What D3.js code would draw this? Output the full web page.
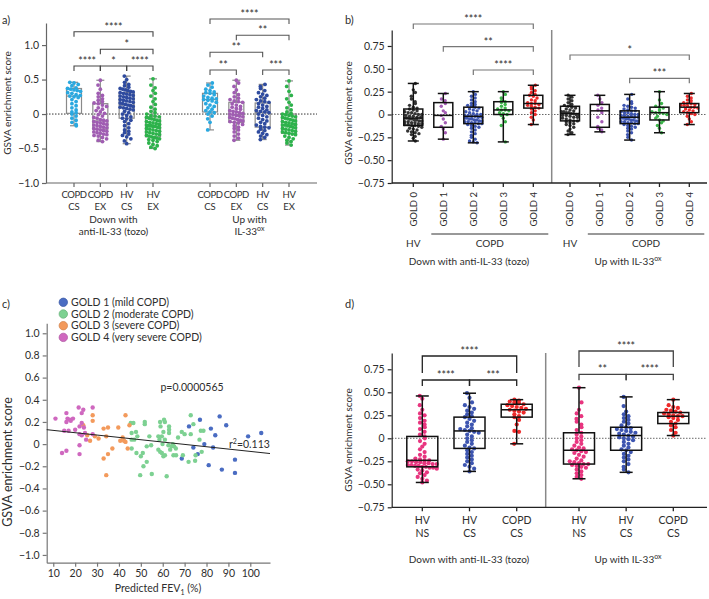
<!DOCTYPE html>
<html>
<head>
<meta charset="utf-8">
<script src="https://cdn.jsdelivr.net/npm/d3@7"></script>
<style>
  body { margin: 0; background: #fff; }
  text { font-family: Lato, "Open Sans", sans-serif; fill: #2e2e2e; }
</style>
</head>
<body>
<script>
// ---------- panel a ----------
const aCats = [['COPD', 'CS'], ['COPD', 'EX'], ['HV', 'CS'], ['HV', 'EX']];
const aColors = ['#29a8e0', '#a05db2', '#2f4b9f', '#2db24b'];
const aTicks = [1.0, 0.5, 0, -0.5, -1.0];
// [min, q1, median, q3, max]
const aDownBox = [[-0.17, 0.01, 0.26, 0.37, 0.46], [-0.40, -0.22, -0.10, 0.15, 0.49], [-0.43, -0.06, 0.13, 0.31, 0.55], [-0.50, -0.33, -0.18, -0.04, 0.51]];
const aUpBox = [[-0.23, 0.03, 0.21, 0.30, 0.45], [-0.38, -0.12, -0.01, 0.17, 0.49], [-0.37, -0.19, 0.02, 0.16, 0.43], [-0.45, -0.28, -0.16, 0.00, 0.48]];
const aDownPts = [
  [0.46, 0.45, 0.43, 0.41, 0.38, 0.37, 0.36, 0.35, 0.34, 0.33, 0.31, 0.30, 0.28, 0.27, 0.26, 0.25, 0.24, 0.21, 0.18, 0.15, 0.12, 0.09, 0.06, 0.03, 0.02, 0.00, -0.03, -0.06, -0.09, -0.12, -0.15, -0.17],
  [0.49, 0.42, 0.36, 0.30, 0.27, 0.25, 0.22, 0.20, 0.18, 0.16, 0.15, 0.13, 0.11, 0.09, 0.07, 0.05, 0.03, 0.01, -0.01, -0.03, -0.05, -0.06, -0.08, -0.09, -0.10, -0.11, -0.12, -0.13, -0.14, -0.15, -0.16, -0.17, -0.18, -0.19, -0.20, -0.21, -0.22, -0.23, -0.24, -0.25, -0.26, -0.27, -0.28, -0.29, -0.30, -0.31, -0.32, -0.34, -0.36, -0.38, -0.40],
  [0.55, 0.50, 0.46, 0.43, 0.41, 0.39, 0.37, 0.36, 0.35, 0.34, 0.33, 0.32, 0.31, 0.30, 0.29, 0.28, 0.27, 0.26, 0.25, 0.24, 0.23, 0.22, 0.21, 0.20, 0.19, 0.18, 0.17, 0.16, 0.15, 0.14, 0.13, 0.12, 0.11, 0.10, 0.09, 0.08, 0.07, 0.06, 0.04, 0.02, 0.00, -0.02, -0.04, -0.06, -0.07, -0.09, -0.11, -0.14, -0.17, -0.20, -0.23, -0.25, -0.27, -0.29, -0.31, -0.33, -0.36, -0.39, -0.43],
  [0.51, 0.42, 0.38, 0.34, 0.30, 0.26, 0.22, 0.18, 0.14, 0.10, 0.07, 0.04, 0.02, 0.00, -0.02, -0.03, -0.04, -0.05, -0.06, -0.07, -0.08, -0.09, -0.10, -0.11, -0.12, -0.13, -0.14, -0.15, -0.16, -0.17, -0.17, -0.18, -0.18, -0.19, -0.20, -0.21, -0.22, -0.23, -0.24, -0.25, -0.26, -0.27, -0.28, -0.29, -0.30, -0.31, -0.32, -0.33, -0.34, -0.35, -0.36, -0.37, -0.38, -0.40, -0.42, -0.44, -0.46, -0.48, -0.50]
];
const aUpPts = [
  [0.45, 0.42, 0.39, 0.36, 0.34, 0.32, 0.31, 0.30, 0.28, 0.26, 0.24, 0.23, 0.22, 0.21, 0.20, 0.19, 0.17, 0.15, 0.13, 0.11, 0.09, 0.07, 0.05, 0.03, 0.02, 0.00, -0.03, -0.07, -0.12, -0.23],
  [0.49, 0.45, 0.40, 0.35, 0.31, 0.28, 0.25, 0.23, 0.21, 0.19, 0.18, 0.17, 0.15, 0.13, 0.11, 0.10, 0.08, 0.07, 0.05, 0.04, 0.03, 0.02, 0.01, 0.00, -0.01, -0.02, -0.03, -0.04, -0.05, -0.06, -0.07, -0.08, -0.09, -0.10, -0.11, -0.12, -0.13, -0.15, -0.17, -0.19, -0.21, -0.23, -0.26, -0.29, -0.32, -0.35, -0.38],
  [0.43, 0.40, 0.37, 0.34, 0.31, 0.29, 0.27, 0.25, 0.23, 0.21, 0.19, 0.18, 0.17, 0.15, 0.13, 0.11, 0.10, 0.08, 0.06, 0.05, 0.04, 0.03, 0.02, 0.00, -0.02, -0.04, -0.06, -0.08, -0.10, -0.12, -0.14, -0.16, -0.18, -0.19, -0.20, -0.22, -0.24, -0.26, -0.28, -0.30, -0.32, -0.34, -0.37],
  [0.48, 0.40, 0.33, 0.27, 0.22, 0.17, 0.13, 0.09, 0.06, 0.03, 0.01, 0.00, -0.01, -0.02, -0.03, -0.04, -0.05, -0.06, -0.07, -0.08, -0.09, -0.10, -0.11, -0.12, -0.13, -0.14, -0.15, -0.16, -0.16, -0.17, -0.18, -0.19, -0.20, -0.21, -0.22, -0.23, -0.24, -0.25, -0.26, -0.27, -0.28, -0.29, -0.30, -0.32, -0.34, -0.36, -0.38, -0.40, -0.42, -0.45]
];
// [from, to, label, level]
const aDownSig = [[0, 3, '****', 0], [1, 3, '*', 1], [0, 1, '****', 2], [1, 2, '*', 2], [2, 3, '****', 2]];
const aUpSig = [[0, 3, '****', 0], [1, 3, '**', 1], [0, 2, '**', 2], [0, 1, '**', 3], [2, 3, '***', 3]];

// ---------- panel b ----------
const bCats = ['GOLD 0', 'GOLD 1', 'GOLD 2', 'GOLD 3', 'GOLD 4'];
const bColors = ['#333333', '#a35bb4', '#3d55b0', '#3cb54a', '#ee2a2a'];
const bTicks = [0.75, 0.5, 0.25, 0, -0.25, -0.5, -0.75];
const bDownBox = [[-0.29, -0.12, -0.04, 0.06, 0.34], [-0.27, -0.14, -0.01, 0.13, 0.23], [-0.31, -0.10, -0.02, 0.08, 0.25], [-0.30, 0.00, 0.05, 0.14, 0.25], [-0.11, 0.07, 0.12, 0.21, 0.32]];
const bUpBox = [[-0.22, -0.07, 0.01, 0.09, 0.21], [-0.19, -0.14, 0.04, 0.11, 0.21], [-0.28, -0.10, -0.03, 0.04, 0.22], [-0.20, -0.06, 0.02, 0.08, 0.25], [-0.11, 0.02, 0.08, 0.12, 0.23]];
const bDownPts = [
  [0.34, 0.27, 0.24, 0.20, 0.17, 0.14, 0.12, 0.10, 0.08, 0.07, 0.06, 0.05, 0.04, 0.03, 0.02, 0.02, 0.01, 0.00, 0.00, -0.01, -0.02, -0.02, -0.03, -0.03, -0.04, -0.04, -0.05, -0.05, -0.06, -0.06, -0.07, -0.07, -0.08, -0.08, -0.09, -0.09, -0.10, -0.10, -0.11, -0.11, -0.12, -0.12, -0.13, -0.14, -0.15, -0.16, -0.17, -0.18, -0.19, -0.20, -0.21, -0.22, -0.24, -0.26, -0.29],
  [0.23, 0.17, 0.15, 0.12, 0.09, 0.04, 0.02, -0.01, -0.05, -0.09, -0.13, -0.16, -0.20, -0.27],
  [0.25, 0.22, 0.20, 0.18, 0.16, 0.14, 0.12, 0.11, 0.10, 0.09, 0.08, 0.07, 0.06, 0.05, 0.04, 0.03, 0.02, 0.01, 0.00, 0.00, -0.01, -0.01, -0.02, -0.02, -0.03, -0.03, -0.04, -0.04, -0.05, -0.05, -0.06, -0.06, -0.07, -0.07, -0.08, -0.08, -0.09, -0.09, -0.10, -0.10, -0.11, -0.12, -0.13, -0.14, -0.15, -0.17, -0.19, -0.21, -0.23, -0.25, -0.27, -0.29, -0.30, -0.31],
  [0.25, 0.22, 0.18, 0.15, 0.14, 0.13, 0.11, 0.09, 0.07, 0.06, 0.05, 0.05, 0.04, 0.02, 0.01, 0.00, -0.01, -0.04, -0.08, -0.12, -0.30],
  [0.32, 0.30, 0.28, 0.26, 0.24, 0.22, 0.21, 0.20, 0.18, 0.16, 0.15, 0.13, 0.12, 0.12, 0.11, 0.10, 0.09, 0.08, 0.07, 0.06, 0.04, 0.02, 0.00, -0.03, -0.06, -0.11]
];
const bUpPts = [
  [0.21, 0.19, 0.17, 0.15, 0.13, 0.11, 0.10, 0.09, 0.08, 0.07, 0.06, 0.05, 0.04, 0.03, 0.03, 0.02, 0.02, 0.01, 0.01, 0.00, 0.00, -0.01, -0.01, -0.02, -0.03, -0.03, -0.04, -0.05, -0.06, -0.07, -0.07, -0.08, -0.09, -0.10, -0.11, -0.12, -0.14, -0.16, -0.18, -0.20, -0.22],
  [0.21, 0.17, 0.13, 0.10, 0.07, 0.05, 0.04, 0.02, -0.03, -0.08, -0.13, -0.15, -0.17, -0.19],
  [0.22, 0.17, 0.14, 0.12, 0.10, 0.09, 0.08, 0.07, 0.06, 0.05, 0.04, 0.04, 0.03, 0.02, 0.02, 0.01, 0.00, 0.00, -0.01, -0.01, -0.02, -0.02, -0.03, -0.03, -0.04, -0.04, -0.05, -0.05, -0.06, -0.06, -0.07, -0.07, -0.08, -0.08, -0.09, -0.09, -0.10, -0.10, -0.11, -0.12, -0.13, -0.14, -0.15, -0.16, -0.18, -0.20, -0.22, -0.25, -0.28],
  [0.25, 0.16, 0.12, 0.09, 0.08, 0.07, 0.05, 0.03, 0.02, 0.02, 0.01, 0.00, -0.02, -0.04, -0.06, -0.07, -0.09, -0.12, -0.15, -0.20],
  [0.23, 0.20, 0.18, 0.16, 0.15, 0.13, 0.12, 0.12, 0.11, 0.10, 0.10, 0.09, 0.08, 0.08, 0.07, 0.06, 0.05, 0.04, 0.03, 0.02, 0.01, 0.00, -0.02, -0.05, -0.08, -0.11]
];
const bDownSig = [[0, 4, '****', 0], [1, 4, '**', 1], [2, 4, '****', 2]];
const bUpSig = [[0, 4, '*', 0], [2, 4, '***', 1]];

// ---------- panel c ----------
const cLegend = ['GOLD 1 (mild COPD)', 'GOLD 2 (moderate COPD)', 'GOLD 3 (severe COPD)', 'GOLD 4 (very severe COPD)'];
const cColors = ['#4a6cc2', '#7dd192', '#f39a5c', '#cf68bf'];
const cXTicks = [10, 20, 30, 40, 50, 60, 70, 80, 90, 100];
const cYTicks = [1.0, 0.8, 0.6, 0.4, 0.2, 0, -0.2, -0.4, -0.6, -0.8, -1.0];
// [predicted FEV1 %, GSVA score]
const cGold1 = [[68.7, -0.13], [72, 0.16], [74, -0.03], [76, -0.09], [77, 0.22], [79, 0.00], [81, -0.19], [82, 0.14], [83, -0.03], [84, 0.08], [86, 0.25], [87, -0.23], [89, 0.17], [93, -0.14], [93, -0.26], [99, 0.07], [105, 0.10]];
const cGold2 = [[45.4, 0.19], [45.8, 0.10], [45.8, 0.04], [45.8, -0.04], [46.6, 0.19], [47, 0.04], [47.8, 0.11], [48, -0.08], [48.4, 0.07], [49.7, -0.28], [50, -0.11], [50.9, -0.08], [51.2, -0.20], [51.8, 0.20], [51.8, 0.18], [52.7, -0.02], [52.7, -0.16], [53.9, 0.07], [54.7, -0.01], [55, -0.27], [58, 0.07], [58, -0.05], [58.5, 0.04], [58.8, 0.20], [58.8, -0.07], [59, 0.16], [59.6, 0.07], [59.6, -0.08], [59.9, 0.00], [60.3, -0.11], [60.3, 0.11], [60.6, 0.22], [61, 0.20], [61, 0.04], [61, -0.10], [61.8, -0.29], [62.6, -0.01], [62.9, 0.16], [62.9, 0.10], [62.9, 0.13], [63.4, -0.05], [64, -0.02], [64.6, 0.00], [64.9, -0.10], [65.2, -0.02], [66, -0.04], [66.1, -0.10], [67, 0.06], [68.7, 0.11], [69.2, -0.10], [70, 0.09], [71.8, -0.16], [72.8, 0.26], [72.8, 0.09], [74, 0.18], [74.8, -0.15], [75, -0.10], [76.8, 0.04], [77.4, 0.12], [78.6, 0.12], [77.8, -0.07]];
const cGold3 = [[23.7, 0.17], [25.5, 0.08], [26.8, 0.03], [28, 0.26], [28, 0.21], [29, 0.07], [30.7, 0.05], [33, 0.14], [33, -0.13], [34.2, 0.07], [34.2, -0.28], [35, 0.15], [35, -0.09], [37, -0.04], [39.7, 0.15], [40.6, 0.03], [41.7, 0.06], [42.3, 0.03], [43, 0.26], [43, 0.02], [44, -0.04], [44.8, 0.17]];
const cGold4 = [[11, 0.23], [14, -0.08], [15, 0.12], [16, 0.28], [16, 0.20], [16, -0.06], [16.5, 0.23], [17.6, 0.22], [17, 0.12], [18, 0.21], [19, 0.23], [20, 0.13], [21.6, 0.33], [22, 0.09], [22, -0.01], [22, -0.09], [22, 0.16], [23, 0.28], [23, 0.19], [23, 0.08], [23.7, 0.31], [24, 0.15], [24.5, 0.10], [25, 0.04], [28, 0.33], [28, 0.09]];
const cFit = { slope: -0.00211, intercept: 0.145, domain: [7, 109] };

// ---------- panel d ----------
const dCats = [['HV', 'NS'], ['HV', 'CS'], ['COPD', 'CS']];
const dColors = ['#e8357f', '#3d55b0', '#ee2a2a'];
const dDownBox = [[-0.48, -0.31, -0.24, 0.02, 0.46], [-0.36, -0.11, 0.08, 0.23, 0.49], [-0.06, 0.23, 0.31, 0.37, 0.42]];
const dUpBox = [[-0.44, -0.28, -0.13, 0.06, 0.55], [-0.37, -0.13, 0.03, 0.12, 0.45], [0.03, 0.16, 0.24, 0.28, 0.42]];
const dDownPts = [
  [0.46, 0.43, 0.36, 0.31, 0.27, 0.25, 0.22, 0.19, 0.17, 0.15, 0.12, 0.10, 0.07, 0.04, 0.02, 0.00, -0.03, -0.06, -0.09, -0.12, -0.15, -0.18, -0.20, -0.22, -0.23, -0.24, -0.24, -0.25, -0.25, -0.26, -0.26, -0.27, -0.27, -0.28, -0.28, -0.29, -0.29, -0.30, -0.30, -0.31, -0.31, -0.32, -0.32, -0.33, -0.34, -0.35, -0.37, -0.38, -0.40, -0.42, -0.44, -0.46, -0.48],
  [0.49, 0.44, 0.39, 0.36, 0.34, 0.32, 0.30, 0.28, 0.26, 0.24, 0.23, 0.21, 0.19, 0.17, 0.15, 0.13, 0.11, 0.10, 0.09, 0.08, 0.07, 0.06, 0.04, 0.02, 0.00, -0.02, -0.04, -0.06, -0.08, -0.10, -0.11, -0.13, -0.15, -0.17, -0.19, -0.21, -0.23, -0.25, -0.27, -0.29, -0.31, -0.33, -0.36],
  [0.42, 0.41, 0.40, 0.39, 0.38, 0.37, 0.36, 0.35, 0.34, 0.33, 0.32, 0.31, 0.30, 0.29, 0.28, 0.26, 0.24, 0.23, 0.20, 0.15, 0.08, 0.07, -0.06]
];
const dUpPts = [
  [0.55, 0.39, 0.31, 0.27, 0.24, 0.21, 0.18, 0.15, 0.12, 0.09, 0.06, 0.04, 0.02, 0.00, -0.02, -0.04, -0.06, -0.08, -0.10, -0.11, -0.12, -0.13, -0.14, -0.15, -0.16, -0.18, -0.20, -0.22, -0.24, -0.25, -0.26, -0.27, -0.28, -0.28, -0.29, -0.30, -0.31, -0.32, -0.34, -0.36, -0.38, -0.40, -0.42, -0.44],
  [0.45, 0.35, 0.29, 0.26, 0.24, 0.22, 0.20, 0.18, 0.16, 0.14, 0.12, 0.11, 0.10, 0.09, 0.08, 0.07, 0.06, 0.05, 0.04, 0.03, 0.02, 0.01, 0.00, -0.01, -0.02, -0.04, -0.06, -0.08, -0.10, -0.12, -0.13, -0.15, -0.17, -0.19, -0.21, -0.23, -0.25, -0.28, -0.31, -0.34, -0.37],
  [0.42, 0.36, 0.34, 0.33, 0.31, 0.30, 0.29, 0.28, 0.27, 0.26, 0.25, 0.24, 0.24, 0.23, 0.22, 0.20, 0.18, 0.16, 0.14, 0.12, 0.09, 0.06, 0.03]
];
const dDownSig = [[0, 2, '****', 0], [0, 1, '****', 1], [1, 2, '***', 1]];
const dUpSig = [[0, 2, '****', 0], [0, 1, '**', 1], [1, 2, '****', 1]];

// ================= drawing =================
const FS = 10;   // base font size
const svg = d3.select('body').append('svg').attr('width', 709).attr('height', 599);

const fmt1 = v => v === 0 ? '0' : d3.format('.1f')(v);
const fmt2 = v => v === 0 ? '0' : d3.format('.2f')(v);

// simple beeswarm: points in the same row are spread sideways
function swarm(vals, y, r, half) {
  const rows = d3.groups(vals, v => Math.round(y(v) / (r * 1.9)));
  const out = [];
  rows.forEach(([row, arr]) => {
    const n = arr.length;
    const step = n > 1 ? Math.min(r * 2.2, (2 * half) / (n - 1)) : 0;
    const shift = n === 1 ? ((row % 3) - 1) * r * 1.2 : 0;
    arr.forEach((v, k) => out.push({ v, dx: (k - (n - 1) / 2) * step + shift }));
  });
  return out;
}

function yAxis(y, x0, ticks, fmt, color) {
  const g = svg.append('g').attr('transform', `translate(${x0},0)`)
    .call(d3.axisLeft(y).tickValues(ticks).tickFormat(fmt).tickSize(4).tickPadding(3).tickSizeOuter(0));
  g.select('.domain').attr('stroke', color).attr('stroke-width', 1.2);
  g.selectAll('.tick line').attr('stroke', color).attr('stroke-width', 1.2);
  g.selectAll('.tick text').attr('font-size', FS + 0.5).style('font-family', 'Lato, sans-serif').attr('fill', '#2e2e2e');
  return g;
}

function boxes(x, y, boxData, pts, colors, o) {
  const g = svg.append('g');
  boxData.forEach((b, i) => {
    const cx = x(i);
    const pg = g.append('g');
    const drawPts = () => {
      pg.selectAll('circle')
        .data(swarm(pts[i], y, o.r, o.boxW / 2 - 1))
        .enter().append('circle')
        .attr('cx', d => cx + d.dx)
        .attr('cy', d => y(d.v))
        .attr('r', o.r)
        .attr('fill', colors[i]);
    };
    if (o.ptsFirst) drawPts();
    const bg = g.append('g').attr('stroke', o.stroke).attr('stroke-width', o.sw).attr('fill', 'none');
    bg.append('line').attr('x1', cx).attr('x2', cx).attr('y1', y(b[0])).attr('y2', y(b[1]));
    bg.append('line').attr('x1', cx).attr('x2', cx).attr('y1', y(b[3])).attr('y2', y(b[4]));
    bg.append('line').attr('x1', cx - o.capW / 2).attr('x2', cx + o.capW / 2).attr('y1', y(b[0])).attr('y2', y(b[0]));
    bg.append('line').attr('x1', cx - o.capW / 2).attr('x2', cx + o.capW / 2).attr('y1', y(b[4])).attr('y2', y(b[4]));
    bg.append('rect').attr('x', cx - o.boxW / 2).attr('width', o.boxW)
      .attr('y', y(b[3])).attr('height', y(b[1]) - y(b[3]));
    bg.append('line').attr('x1', cx - o.boxW / 2).attr('x2', cx + o.boxW / 2).attr('y1', y(b[2])).attr('y2', y(b[2]));
    if (!o.ptsFirst) { g.node().appendChild(pg.node()); drawPts(); }
  });
}

function brackets(x, sig, rowY, o) {
  const g = svg.append('g');
  sig.forEach(([a, b, lab, lev]) => {
    const yy = rowY[lev];
    const leg = (o.longTop && lev === 0) ? o.longTop : o.leg;
    g.append('path')
      .attr('d', `M${x(a)},${yy + leg}V${yy}H${x(b)}V${yy + leg}`)
      .attr('fill', 'none').attr('stroke', o.color).attr('stroke-width', o.sw);
    g.append('text').attr('x', (x(a) + x(b)) / 2).attr('y', yy - 1)
      .attr('text-anchor', 'middle').attr('font-size', 10.5).text(lab);
  });
}

function zeroLine(y, x0, x1, color) {
  svg.append('line').attr('x1', x0).attr('x2', x1).attr('y1', y(0)).attr('y2', y(0))
    .attr('stroke', color).attr('stroke-width', 1).attr('stroke-dasharray', '1.5,1.5');
}

function xBase(yPix, x0, x1, tickXs, color, sw) {
  svg.append('line').attr('x1', x0).attr('x2', x1).attr('y1', yPix).attr('y2', yPix)
    .attr('stroke', color).attr('stroke-width', sw);
  tickXs.forEach(tx => svg.append('line').attr('x1', tx).attr('x2', tx).attr('y1', yPix).attr('y2', yPix + 4)
    .attr('stroke', color).attr('stroke-width', sw));
}

function vLabel(txt, x, y, size) {
  svg.append('text').attr('transform', `translate(${x},${y}) rotate(-90)`)
    .attr('text-anchor', 'middle').attr('font-size', size || FS).text(txt);
}

function label(x, y, txt, anchor) {
  return svg.append('text').attr('x', x).attr('y', y).attr('text-anchor', anchor || 'middle')
    .attr('font-size', FS).text(txt);
}

function supText(sel, base, sup) {
  sel.append('tspan').text(base);
  sel.append('tspan').attr('font-size', 7).attr('dy', -4).text(sup);
}

// ----- panel a -----
{
  const y = d3.scaleLinear().domain([-1, 1.32]).range([183, 23]);
  const xd = d3.scaleLinear().domain([0, 3]).range([74, 153]);
  const xu = d3.scaleLinear().domain([0, 3]).range([210, 289]);
  zeroLine(y, 46, 317, '#333');
  yAxis(y, 46, aTicks, fmt1, '#666');
  xBase(183, 46, 317, [0, 1, 2, 3].map(xd).concat([0, 1, 2, 3].map(xu)), '#666', 1.2);
  const opt = { r: 1.9, boxW: 15, capW: 8, stroke: '#8a8a8a', sw: 1.2, ptsFirst: false };
  boxes(xd, y, aDownBox, aDownPts, aColors, opt);
  boxes(xu, y, aUpBox, aUpPts, aColors, opt);
  brackets(xd, aDownSig, [31.7, 49.3, 66], { leg: 5, color: '#444', sw: 1.1 });
  brackets(xu, aUpSig, [19, 35.3, 52.3, 70], { leg: 5, color: '#555', sw: 1.1 });
  [xd, xu].forEach(x => aCats.forEach((c, i) => {
    label(x(i), 198, c[0]).attr('font-size', 9.5).attr('letter-spacing', -0.4);
    label(x(i), 209.5, c[1]).attr('font-size', 9.5);
  }));
  label(113.5, 222.5, 'Down with');
  label(113.5, 234.5, 'anti-IL-33 (tozo)');
  label(249.5, 222.5, 'Up with');
  const t2 = svg.append('text').attr('x', 249.5).attr('y', 234.5).attr('text-anchor', 'middle').attr('font-size', FS);
  supText(t2, 'IL-33', 'ox');
  vLabel('GSVA enrichment score', 11, 103);
  label(2, 24, 'a)', 'start').attr('font-size', 11);
}

// ----- panel b -----
{
  const y = d3.scaleLinear().domain([-0.75, 0.925]).range([183, 30]);
  const xd = d3.scalePoint().domain(d3.range(5)).range([413.3, 533.3]);
  const xu = d3.scalePoint().domain(d3.range(5)).range([570, 689.3]);
  zeroLine(y, 392, 707, '#666');
  svg.append('line').attr('x1', 551.7).attr('x2', 551.7).attr('y1', 30).attr('y2', 183)
    .attr('stroke', '#888').attr('stroke-width', 1.5);
  yAxis(y, 391.7, bTicks, fmt2, '#222');
  xBase(183, 391.7, 707, d3.range(5).map(xd).concat(d3.range(5).map(xu)), '#222', 1.3);
  const opt = { r: 1.7, boxW: 19, capW: 11, stroke: '#111', sw: 1.5, ptsFirst: true };
  boxes(xd, y, bDownBox, bDownPts, bColors, opt);
  boxes(xu, y, bUpBox, bUpPts, bColors, opt);
  brackets(xd, bDownSig, [24, 46.7, 70], { leg: 5, color: '#777', sw: 1.2 });
  brackets(xu, bUpSig, [55, 78.3], { leg: 5, color: '#777', sw: 1.2 });
  [xd, xu].forEach(x => bCats.forEach((c, i) => {
    svg.append('text').attr('transform', `translate(${x(i)},192) rotate(-90)`)
      .attr('text-anchor', 'end').attr('dy', '0.35em').attr('font-size', 9.5).text(c);
  }));
  [xd, xu].forEach(x => {
    const x0 = x(1) - 12, x1 = x(4) + 15;
    svg.append('line').attr('x1', x0).attr('x2', x1).attr('y1', 234).attr('y2', 234).attr('stroke', '#333').attr('stroke-width', 1);
    label(x(0), 247, 'HV');
    label((x0 + x1) / 2, 247, 'COPD');
  });
  label(469, 265, 'Down with anti-IL-33 (tozo)');
  const t = svg.append('text').attr('x', 628).attr('y', 265).attr('text-anchor', 'middle').attr('font-size', FS);
  supText(t, 'Up with IL-33', 'ox');
  vLabel('GSVA enrichment score', 352, 113);
  label(345, 24, 'b)', 'start').attr('font-size', 11);
}

// ----- panel c -----
{
  const x = d3.scaleLinear().domain([7, 109]).range([46.7, 270]);
  const y = d3.scaleLinear().domain([-1.07, 1.09]).range([562.7, 323.3]);
  yAxis(y, 46.7, cYTicks, fmt1, '#777');
  const gx = svg.append('g').attr('transform', 'translate(0,562.7)')
    .call(d3.axisBottom(x).tickValues(cXTicks).tickSize(4).tickPadding(3).tickSizeOuter(0));
  gx.select('.domain').attr('stroke', '#777').attr('stroke-width', 1.2);
  gx.selectAll('.tick line').attr('stroke', '#777').attr('stroke-width', 1.2);
  gx.selectAll('.tick text').attr('font-size', FS + 0.5).style('font-family', 'Lato, sans-serif').attr('fill', '#2e2e2e');
  [cGold1, cGold2, cGold3, cGold4].forEach((pts, k) => {
    svg.append('g').selectAll('circle').data(pts).enter().append('circle')
      .attr('cx', d => x(d[0])).attr('cy', d => y(d[1])).attr('r', 2.2).attr('fill', cColors[k]);
  });
  const line = d3.line().x(d => x(d)).y(d => y(cFit.intercept + cFit.slope * d));
  svg.append('path').attr('d', line(cFit.domain)).attr('stroke', '#222').attr('stroke-width', 1).attr('fill', 'none');
  label(192, 391, 'p=0.0000565').attr('font-size', 10.5);
  const r2 = svg.append('text').attr('x', 229).attr('y', 448).attr('font-size', 10.5);
  r2.append('tspan').text('r');
  r2.append('tspan').attr('font-size', 7).attr('dy', -4).text('2');
  r2.append('tspan').attr('dy', 4).text('=0.113');
  cLegend.forEach((lab, k) => {
    svg.append('circle').attr('cx', 63.3).attr('cy', 302.3 + k * 11.7).attr('r', 4.2)
      .attr('fill', cColors[k]).attr('stroke', d3.color(cColors[k]).darker(0.4)).attr('stroke-width', 0.8);
    label(71, 302.3 + k * 11.7, lab, 'start').attr('dy', '0.35em').attr('font-size', 10.5);
  });
  const xt = svg.append('text').attr('x', 158).attr('y', 592).attr('text-anchor', 'middle').attr('font-size', 10.5);
  xt.append('tspan').text('Predicted FEV');
  xt.append('tspan').attr('font-size', 7).attr('dy', 3).text('1');
  xt.append('tspan').attr('dy', -3).text(' (%)');
  vLabel('GSVA enrichment score', 12, 462, 12.5);
  label(2, 308, 'c)', 'start').attr('font-size', 11);
}

// ----- panel d -----
{
  const y = d3.scaleLinear().domain([-0.75, 0.927]).range([507.3, 353]);
  const xd = d3.scalePoint().domain(d3.range(3)).range([422.3, 516.7]);
  const xu = d3.scalePoint().domain(d3.range(3)).range([579, 673.3]);
  zeroLine(y, 392, 707, '#666');
  svg.append('line').attr('x1', 545.7).attr('x2', 545.7).attr('y1', 353).attr('y2', 507.3)
    .attr('stroke', '#888').attr('stroke-width', 1.5);
  yAxis(y, 391.7, bTicks, fmt2, '#222');
  xBase(507.3, 391.7, 707, d3.range(3).map(xd).concat(d3.range(3).map(xu)), '#222', 1.3);
  const opt = { r: 2.1, boxW: 31, capW: 13, stroke: '#111', sw: 1.5, ptsFirst: true };
  boxes(xd, y, dDownBox, dDownPts, dColors, opt);
  boxes(xu, y, dUpBox, dUpPts, dColors, opt);
  brackets(xd, dDownSig, [356, 380], { leg: 6, longTop: 17, color: '#222', sw: 1.3 });
  brackets(xu, dUpSig, [351, 374.3], { leg: 6, longTop: 16, color: '#444', sw: 1.3 });
  [xd, xu].forEach(x => dCats.forEach((c, i) => {
    label(x(i), 524, c[0]).attr('font-size', 10.5);
    label(x(i), 536.5, c[1]).attr('font-size', 10.5);
  }));
  label(469, 563, 'Down with anti-IL-33 (tozo)');
  const t = svg.append('text').attr('x', 628).attr('y', 563).attr('text-anchor', 'middle').attr('font-size', FS);
  supText(t, 'Up with IL-33', 'ox');
  vLabel('GSVA enrichment score', 352, 440);
  label(345, 308, 'd)', 'start').attr('font-size', 11);
}
</script>
</body>
</html>
